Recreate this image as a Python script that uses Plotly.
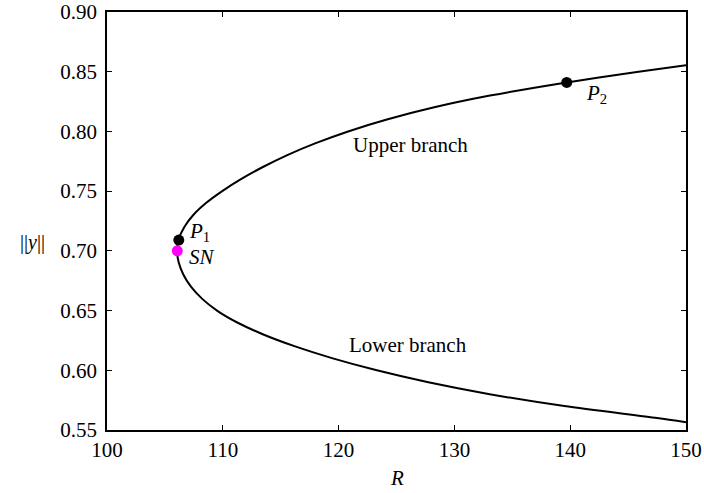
import plotly.graph_objects as go

# Solution branch traced from the far end of the lower branch, through the
# saddle-node fold, out to the far end of the upper branch.
branch_R = [150.0, 147.5, 139.5, 133.05, 127.75, 123.3, 119.5, 116.25, 113.5,
            111.25, 109.5, 108.2, 107.25, 106.6, 106.2, 106.05,
            106.2, 106.68, 107.45, 108.55, 109.95, 111.57, 113.42, 115.52,
            117.97, 120.82, 124.17, 128.17, 133.07, 139.02, 145.9, 150.0]
branch_norm = [0.5565, 0.56, 0.57, 0.58, 0.59, 0.60, 0.61, 0.62, 0.63,
               0.64, 0.65, 0.66, 0.67, 0.68, 0.69, 0.70,
               0.71, 0.72, 0.73, 0.74, 0.75, 0.76, 0.77, 0.78,
               0.79, 0.80, 0.81, 0.82, 0.83, 0.84, 0.85, 0.8555]

# Marked points
point_R = [106.2, 139.7]
point_norm = [0.709, 0.841]
sn_R = [106.07]
sn_norm = [0.700]

x_ticks = [100, 110, 120, 130, 140, 150]
y_ticks = [0.55, 0.60, 0.65, 0.70, 0.75, 0.80, 0.85, 0.90]

FONT = "Liberation Serif, Times New Roman, Times, serif"

fig = go.Figure()
fig.add_trace(go.Scatter(x=branch_R, y=branch_norm, mode="lines",
                         line=dict(color="black", width=2, shape="spline", smoothing=0.8),
                         hoverinfo="skip", showlegend=False))
fig.add_trace(go.Scatter(x=point_R, y=point_norm, mode="markers",
                         marker=dict(color="black", size=11), showlegend=False))
fig.add_trace(go.Scatter(x=sn_R, y=sn_norm, mode="markers",
                         marker=dict(color="#ff00ff", size=11), showlegend=False))

axis_common = dict(showline=True, linecolor="black", linewidth=1.5, mirror="ticks",
                   ticks="inside", ticklen=5, tickcolor="black", tickwidth=1,
                   showgrid=False, zeroline=False, automargin=False,
                   tickfont=dict(family=FONT, size=21, color="black"))

fig.update_xaxes(range=[100, 150], tickvals=x_ticks,
                 ticktext=[str(v) for v in x_ticks], **axis_common)
fig.update_yaxes(range=[0.55, 0.90], tickvals=y_ticks, ticklabelstandoff=4,
                 ticktext=[f"{v:.2f}" for v in y_ticks], **axis_common)

labels = [
    (106.9, 0.716, "<i>P</i><sub>1</sub>"),
    (106.95, 0.6945, "<i>SN</i>"),
    (141.15, 0.8315, "<i>P</i><sub>2</sub>"),
    (121.05, 0.7886, "Upper branch"),
    (120.75, 0.6213, "Lower branch"),
]
for x, y, txt in labels:
    fig.add_annotation(x=x, y=y, text=txt, showarrow=False, xanchor="left",
                       yanchor="middle", font=dict(family=FONT, size=21, color="black"))

fig.add_annotation(x=0.5, y=-0.115, xref="paper", yref="paper", text="<i>R</i>",
                   showarrow=False, yanchor="middle",
                   font=dict(family=FONT, size=21, color="black"))
fig.add_annotation(x=-0.128, y=0.448, xref="paper", yref="paper", text="||<i>y</i>||",
                   showarrow=False, xanchor="center", yanchor="middle",
                   font=dict(family=FONT, size=20, color="black"))

fig.update_layout(width=704, height=493, margin=dict(l=107, r=18, t=12, b=63),
                  paper_bgcolor="white", plot_bgcolor="white")

fig.write_html("out.html")
